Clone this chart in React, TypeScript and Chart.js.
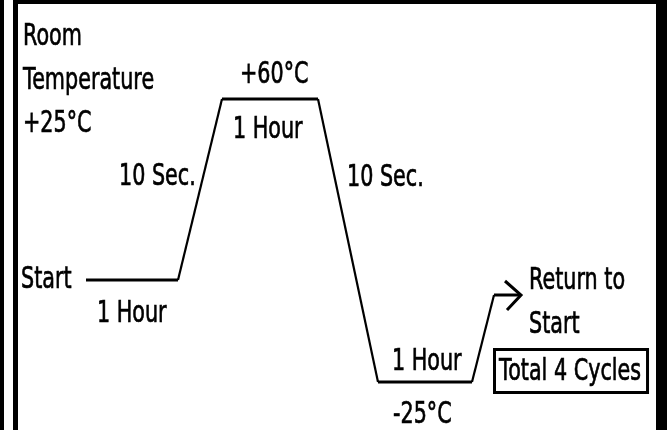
import React, { useEffect, useRef } from "react";
import { Chart, registerables } from "chart.js";

Chart.register(...registerables);

// Profile path (abstract time units on x, level units on y, y grows downward)
const pathX = [86, 178, 222, 318, 378, 472, 494, 520];
const pathY = [280, 280, 99, 99, 382, 382, 295, 295];

// Arrow head at the end of the path
const arrowX = [505, 521, 507];
const arrowY = [281, 295, 310];

// Text annotations (left / baseline anchor in the same units)
const labelTexts = [
  "Room",
  "Temperature",
  "+25°C",
  "+60°C",
  "1 Hour",
  "10 Sec.",
  "10 Sec.",
  "Start",
  "1 Hour",
  "1 Hour",
  "-25°C",
  "Return to",
  "Start",
  "Total 4 Cycles",
];
const labelX = [23, 23, 23, 240, 233, 119, 347, 21, 97, 392, 393, 529, 529, 499];
const labelY = [45, 89, 132, 83, 138, 185, 186, 288, 322, 370, 423, 289, 333, 380];
const boxedLabel = "Total 4 Cycles";

const FONT = '30px "DejaVu Sans"';
const SQUEEZE = 0.69;

const framePlugin = {
  id: "frame",
  beforeDraw(chart: any) {
    const { ctx, width, height } = chart;
    ctx.save();
    ctx.fillStyle = "#ffffff";
    ctx.fillRect(0, 0, width, height);
    ctx.fillStyle = "#000000";
    ctx.fillRect(0, 0, 4, height);
    ctx.fillRect(13, 0, 5, height);
    ctx.fillRect(13, 0, width - 13, 4);
    ctx.fillRect(width - 11, 0, 11, height);
    ctx.restore();
  },
};

const labelPlugin = {
  id: "labels",
  afterDatasetsDraw(chart: any) {
    const { ctx } = chart;
    const xs = chart.scales.x;
    const ys = chart.scales.y;
    ctx.save();
    ctx.font = FONT;
    ctx.fillStyle = "#000000";
    ctx.strokeStyle = "#000000";
    ctx.textBaseline = "alphabetic";
    ctx.textAlign = "left";
    labelTexts.forEach((t, i) => {
      const px = xs.getPixelForValue(labelX[i]);
      const py = ys.getPixelForValue(labelY[i]);
      ctx.save();
      ctx.translate(px, py);
      ctx.scale(SQUEEZE, 1);
      ctx.lineWidth = 0.7;
      ctx.fillText(t, 0, 0);
      ctx.strokeText(t, 0, 0);
      ctx.restore();
      if (t === boxedLabel) {
        const w = ctx.measureText(t).width * SQUEEZE;
        ctx.save();
        ctx.lineWidth = 3;
        ctx.strokeStyle = "#000000";
        ctx.strokeRect(px - 4.5, py - 30.5, w + 11, 43);
        ctx.restore();
      }
    });
    ctx.restore();
  },
};

export default function App() {
  const ref = useRef<HTMLCanvasElement | null>(null);

  useEffect(() => {
    if (!ref.current) return;
    const chart = new Chart(ref.current, {
      type: "scatter",
      data: {
        datasets: [
          {
            data: pathX.map((x, i) => ({ x, y: pathY[i] })),
            showLine: true,
            borderColor: "#000000",
            borderWidth: 3,
            borderJoinStyle: "miter",
            borderCapStyle: "butt",
            pointRadius: 0,
            fill: false,
            tension: 0,
            clip: false as any,
            segment: {
              borderWidth: (c: any) =>
                c.p0.parsed.y === c.p1.parsed.y ? 3 : 2.2,
            },
          } as any,
          {
            data: arrowX.map((x, i) => ({ x, y: arrowY[i] })),
            showLine: true,
            borderColor: "#000000",
            borderWidth: 3,
            borderJoinStyle: "miter",
            borderCapStyle: "butt",
            pointRadius: 0,
            fill: false,
            tension: 0,
            clip: false as any,
          } as any,
        ],
      },
      options: {
        animation: false,
        responsive: false,
        devicePixelRatio: 1,
        layout: { padding: 0 },
        plugins: {
          legend: { display: false },
          tooltip: { enabled: false },
        },
        scales: {
          x: { type: "linear", min: 0, max: 667, display: false },
          y: { type: "linear", min: 0, max: 430, reverse: true, display: false },
        },
      },
      plugins: [framePlugin, labelPlugin],
    });
    return () => chart.destroy();
  }, []);

  return (
    <div style={{ position: "fixed", left: 0, top: 0, width: 667, height: 430 }}>
      <canvas ref={ref} width={667} height={430} style={{ display: "block" }} />
    </div>
  );
}
